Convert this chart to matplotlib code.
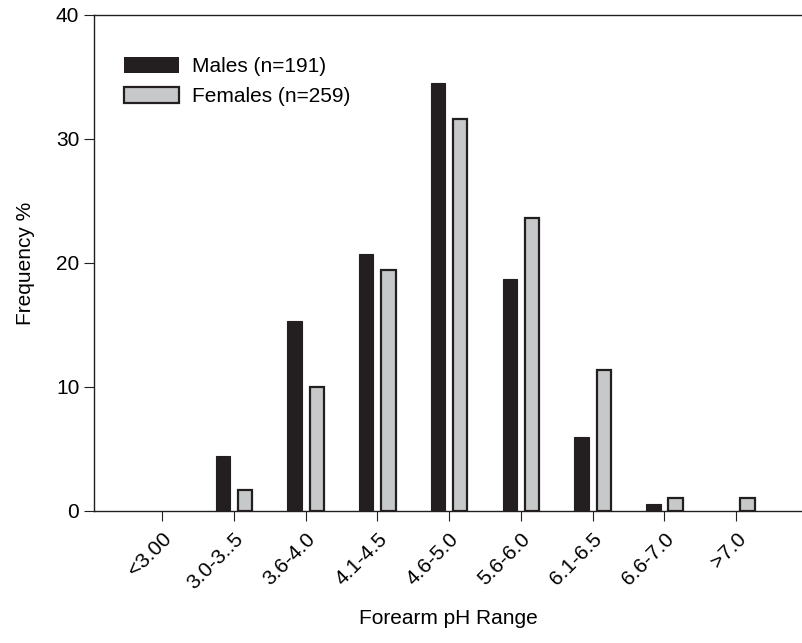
import numpy as np
import matplotlib
matplotlib.use("Agg")
import matplotlib.pyplot as plt

plt.rcParams['font.family'] = ['Liberation Sans', 'DejaVu Sans']

categories = ['<3.00', '3.0-3..5', '3.6-4.0', '4.1-4.5', '4.6-5.0',
              '5.6-6.0', '6.1-6.5', '6.6-7.0', '>7.0']
males = [0, 4.4, 15.3, 20.7, 34.5, 18.7, 6.0, 0.55, 0]
females = [0, 1.7, 10.0, 19.4, 31.6, 23.6, 11.4, 1.05, 1.05]

fig = plt.figure(figsize=(8.03, 6.43), dpi=100)
ax = fig.add_axes([0.117, 0.2053, 0.883, 0.7714])

x = np.arange(len(categories))
w = 0.2
# zero-height bars get no outline so they vanish as in the original
m_edges = ['#231f20' if v > 0 else 'none' for v in males]
f_edges = ['#231f20' if v > 0 else 'none' for v in females]
ax.bar(x - 0.155, males, w, color='#231f20', edgecolor=m_edges,
       linewidth=0.8, label='Males (n=191)')
ax.bar(x + 0.155, females, w, color='#c6c8ca', edgecolor=f_edges,
       linewidth=1.6, label='Females (n=259)')

ax.set_xlim(-0.95, 8.93)
ax.set_ylim(0, 40)
ax.set_yticks([0, 10, 20, 30, 40])
ax.set_xticks(x)
ax.set_xticklabels(categories, rotation=45, ha='right', rotation_mode='anchor')
ax.tick_params(axis='both', labelsize=15, direction='out', color='#231f20')
ax.tick_params(axis='x', length=7, pad=6)
ax.tick_params(axis='y', length=7)

ax.spines['right'].set_visible(False)
for s in ['left', 'top', 'bottom']:
    ax.spines[s].set_color('#231f20')
    ax.spines[s].set_linewidth(1.0)

ax.set_ylabel('Frequency %', fontsize=15, labelpad=15)
ax.set_xlabel('Forearm pH Range', fontsize=15, labelpad=12)

leg = ax.legend(loc='upper left', bbox_to_anchor=(0.0165, 0.953), frameon=False,
                fontsize=15, handlelength=2.64, handleheight=0.8,
                handletextpad=0.6, labelspacing=0.5)
leg.legend_handles[1].set_edgecolor('#231f20')
leg.legend_handles[1].set_linewidth(1.6)

fig.savefig('out.png', dpi=100)
